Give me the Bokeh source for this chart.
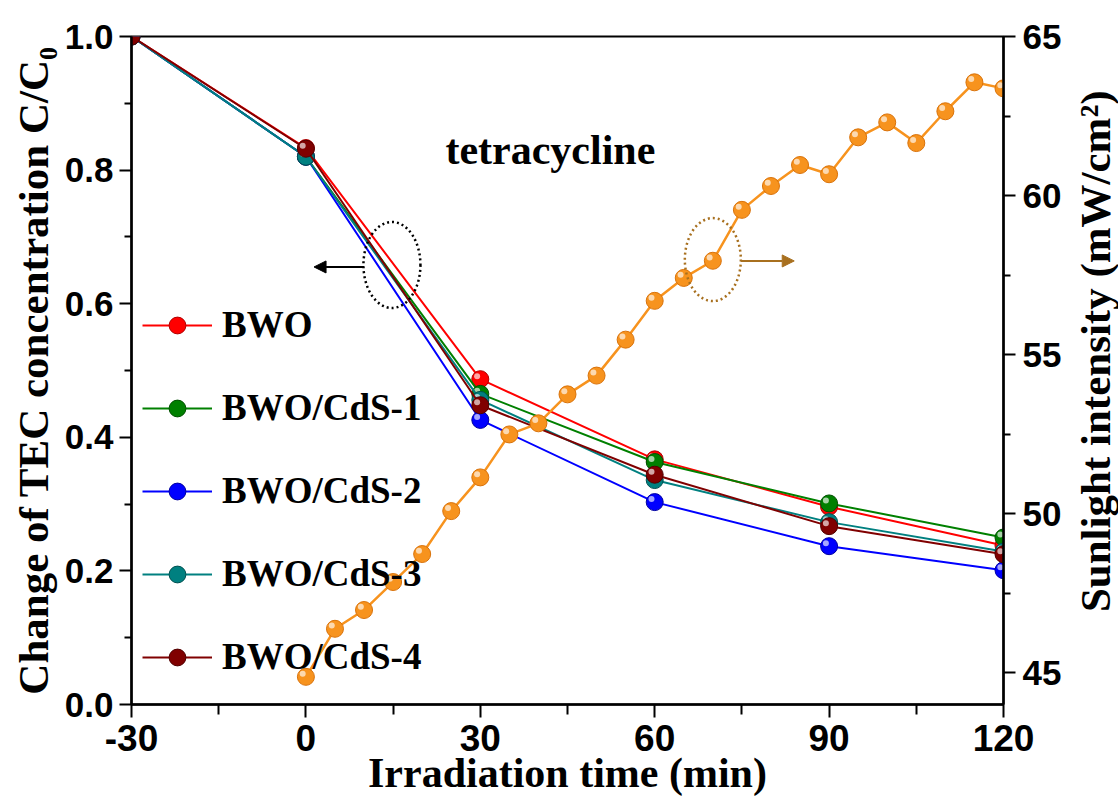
import math
from bokeh.plotting import figure
from bokeh.layouts import row
from bokeh.models import (Range1d, LinearAxis, FixedTicker, PrintfTickFormatter, Legend,
                          LegendItem, ColumnDataSource, Arrow, NormalHead, Label)
from bokeh.transform import dodge
from bokeh.embed import file_html
from bokeh.resources import INLINE

# ---------------- data ----------------
time_min = [-30, 0, 30, 60, 90, 120]
bwo = [1.0, 0.833, 0.487, 0.367, 0.296, 0.238]
bwo_cds1 = [1.0, 0.820, 0.465, 0.363, 0.301, 0.250]
bwo_cds2 = [1.0, 0.820, 0.426, 0.303, 0.237, 0.201]
bwo_cds3 = [1.0, 0.820, 0.456, 0.336, 0.273, 0.229]
bwo_cds4 = [1.0, 0.832, 0.448, 0.344, 0.267, 0.225]

sun_time = [0, 5, 10, 15, 20, 25, 30, 35, 40, 45, 50, 55, 60,
            65, 70, 75, 80, 85, 90, 95, 100, 105, 110, 115, 120]
sun_intensity = [44.87, 46.38, 46.97, 47.85, 48.73, 50.08, 51.14, 52.49, 52.84,
                 53.75, 54.34, 55.47, 56.69, 57.41, 57.95, 59.55, 60.30, 60.96,
                 60.67, 61.83, 62.30, 61.65, 62.65, 63.56, 63.37]

series_names = ["BWO", "BWO/CdS-1", "BWO/CdS-2", "BWO/CdS-3", "BWO/CdS-4"]
series_colors = ["#FF0000", "#008000", "#0000FF", "#008080", "#800000"]
series_edges = ["#B00000", "#005000", "#0000A0", "#005050", "#500000"]

x_ticks = [-30, 0, 30, 60, 90, 120]
x_minor = [-15, 15, 45, 75, 105]
y_ticks = [0.0, 0.2, 0.4, 0.6, 0.8, 1.0]
y_minor = [0.1, 0.3, 0.5, 0.7, 0.9]
r_ticks = [45, 50, 55, 60, 65]
r_minor = [47.5, 52.5, 57.5, 62.5]

SERIF = "Liberation Serif"
SANS = "Liberation Sans"

MAIN_W, TITLE_W, H = 1073, 45, 798

p = figure(width=MAIN_W, height=H, output_backend="svg", toolbar_location=None,
           x_range=Range1d(-30, 120), y_range=Range1d(0, 1),
           min_border_left=131, min_border_right=MAIN_W - 1003, min_border_top=36,
           min_border_bottom=92)
p.grid.visible = False
p.outline_line_color = "black"
p.outline_line_width = 2
p.background_fill_color = "white"
p.border_fill_color = "white"

p.extra_y_ranges = {"sun": Range1d(44.0, 65.0)}

# bottom axis
xa = p.xaxis[0]
xa.ticker = FixedTicker(ticks=x_ticks, minor_ticks=x_minor)
xa.formatter = PrintfTickFormatter(format="%d")
xa.axis_label = "Irradiation time (min)"
xa.major_label_text_font = SANS
xa.major_label_text_font_size = "37px"
xa.major_label_standoff = 7
xa.major_tick_out = 13
xa.major_tick_in = 0
xa.minor_tick_out = 10
xa.minor_tick_in = 0
xa.axis_label_standoff = -4

# left axis
ya = p.yaxis[0]
ya.ticker = FixedTicker(ticks=y_ticks, minor_ticks=y_minor)
ya.formatter = PrintfTickFormatter(format="%.1f")
ya.axis_label = "Change of TEC concentration C/C\u2080"
ya.major_label_text_font = SANS
ya.major_label_text_font_size = "35px"
ya.major_label_standoff = 6
ya.major_tick_out = 12
ya.major_tick_in = 0
ya.minor_tick_out = 7
ya.minor_tick_in = 0
ya.axis_label_standoff = 5

# right axis
ra = LinearAxis(y_range_name="sun",
                ticker=FixedTicker(ticks=r_ticks, minor_ticks=r_minor))
ra.major_label_text_font = SANS
ra.major_label_text_font_size = "35px"
ra.major_label_standoff = 7
ra.major_tick_out = 12
ra.major_tick_in = 0
ra.minor_tick_out = 7
ra.minor_tick_in = 0
p.add_layout(ra, "right")

for ax in [xa, ya, ra]:
    ax.axis_line_width = 2.5
    ax.major_tick_line_width = 2
    ax.minor_tick_line_width = 2
    ax.major_label_text_font_style = "bold"
    ax.major_label_text_color = "black"
    ax.axis_label_text_font = SERIF
    ax.axis_label_text_font_style = "bold"
    ax.axis_label_text_font_size = "42px"
    ax.axis_label_text_color = "black"
ya.axis_label_text_font_size = "43px"

# ---------------- series ----------------
all_vals = [bwo, bwo_cds1, bwo_cds2, bwo_cds3, bwo_cds4]
items = []
for name, vals, col, edge in zip(series_names, all_vals, series_colors, series_edges):
    src = ColumnDataSource(dict(t=time_min, c=vals))
    lr = p.line("t", "c", source=src, line_color=col, line_width=2)
    sr = p.scatter("t", "c", source=src, size=17, fill_color=col,
                   line_color=edge, line_width=1)
    p.scatter(dodge("t", -0.55), dodge("c", 0.0045), source=src, size=6,
              fill_color="white", fill_alpha=0.65, line_color=None)
    items.append(LegendItem(label=name, renderers=[lr, sr]))

sun_src = ColumnDataSource(dict(t=sun_time, s=sun_intensity))
p.line("t", "s", source=sun_src, y_range_name="sun", line_color="#F7931E", line_width=2.5)
p.scatter("t", "s", source=sun_src, y_range_name="sun", size=17,
          fill_color="#F7931E", line_color="#D9720A", line_width=1)
p.scatter(dodge("t", -0.55), dodge("s", 0.1), source=sun_src, y_range_name="sun",
          size=6, fill_color="white", fill_alpha=0.65, line_color=None)

# ---------------- annotations ----------------
p.add_layout(Label(x=24.0, y=0.83, text="tetracycline", text_font=SERIF,
                   text_font_style="bold", text_font_size="42px", text_color="black",
                   text_baseline="middle", text_align="left"))

p.ellipse(x=[14.8], y=[0.658], width=57, height=86, width_units="screen",
          height_units="screen", fill_color=None, line_color="black",
          line_dash="2 3", line_width=2.5)
p.add_layout(Arrow(end=NormalHead(size=12, fill_color="black", line_color="black"),
                   x_start=10.0, y_start=0.655, x_end=1.4, y_end=0.655,
                   line_color="black", line_width=2))

p.ellipse(x=[70.0], y=[0.666], width=56, height=83, width_units="screen",
          height_units="screen", fill_color=None, line_color="#A8701F",
          line_dash="2 3", line_width=2.5)
p.add_layout(Arrow(end=NormalHead(size=12, fill_color="#A8701F", line_color="#A8701F"),
                   x_start=74.8, y_start=0.664, x_end=84.0, y_end=0.664,
                   line_color="#A8701F", line_width=2))

legend = Legend(items=items, location=(11, 26), glyph_width=70, glyph_height=42,
                label_height=40, spacing=40, label_standoff=10, padding=0, margin=0,
                border_line_color=None, background_fill_alpha=0,
                label_text_font=SERIF, label_text_font_style="bold",
                label_text_font_size="37px", label_text_color="black")
p.add_layout(legend)

# ---------------- right-hand axis title (reads bottom-to-top) ----------------
pt = figure(width=TITLE_W, height=H, output_backend="svg", toolbar_location=None,
            x_range=Range1d(0, TITLE_W), y_range=Range1d(0, H),
            x_axis_location=None, y_axis_location=None,
            min_border=0, min_border_left=0, min_border_right=0,
            min_border_top=0, min_border_bottom=0)
pt.grid.visible = False
pt.outline_line_color = None
pt.background_fill_color = "white"
pt.border_fill_color = "white"
pt.add_layout(Label(x=22, y=422, text="Sunlight intensity (mW/cm\u00b2)",
                    angle=90, angle_units="deg", text_font=SERIF,
                    text_font_style="bold", text_font_size="43px", text_color="black",
                    text_align="center", text_baseline="middle"))

layout = row(p, pt, spacing=0)
open("out.html", "w").write(file_html(layout, INLINE))
